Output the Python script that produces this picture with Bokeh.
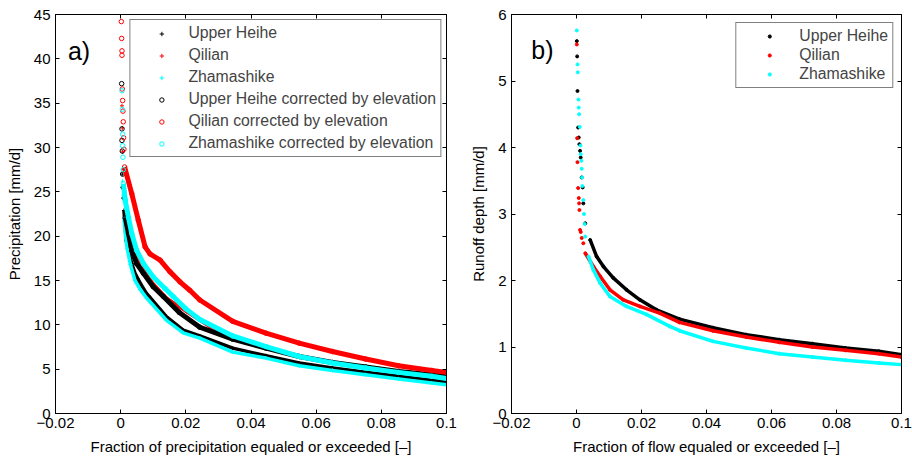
from bokeh.plotting import figure
from bokeh.layouts import row
from bokeh.models import (FixedTicker, LinearAxis, Legend, LegendItem, Label,
                          CustomJSTickFormatter, CustomLabelingPolicy, Range1d)
from bokeh.embed import file_html
from bokeh.resources import INLINE

FONT = "Liberation Sans"
BLACK, RED, CYAN = "#000000", "#ff0000", "#00ffff"

# ---------------- data: panel a (precipitation exceedance) ----------------
x_ticks = [-0.02, 0.0, 0.02, 0.04, 0.06, 0.08, 0.1]
ya_ticks = [0, 5, 10, 15, 20, 25, 30, 35, 40, 45]
yb_ticks = [0, 1, 2, 3, 4, 5, 6]

uh_top_x = [0.0005, 0.0006, 0.0007]
uh_top_y = [27.0, 25.5, 24.3]
uh_x = [0.001, 0.0014, 0.0017, 0.0024, 0.0034, 0.0044, 0.006, 0.008, 0.009, 0.0141, 0.0192,
        0.0243, 0.0344, 0.0446, 0.0548, 0.065, 0.0752, 0.0853, 0.0955, 0.1]
uh_y = [22.9, 21.0, 19.5, 18.4, 16.9, 15.8, 14.7, 13.5, 13.1, 10.9, 9.4,
        8.75, 7.37, 6.51, 5.69, 5.13, 4.64, 4.19, 3.74, 3.56]

ql_top_x = [0.0004, 0.0005, 0.0006, 0.0008]
ql_top_y = [34.7, 32.2, 29.5, 27.5]
ql_x = [0.001, 0.002, 0.003, 0.004, 0.005, 0.006, 0.008, 0.01, 0.0141, 0.0202, 0.0273,
        0.0344, 0.0446, 0.0548, 0.065, 0.0752, 0.0853, 0.0955, 0.1]
ql_y = [25.5, 22.8, 20.8, 19.3, 18.0, 17.0, 15.6, 14.6, 13.0, 11.5, 9.8,
        8.5, 7.45, 6.45, 5.72, 5.18, 4.7, 4.3, 4.1]

zm_top_x = [0.0006, 0.0008]
zm_top_y = [26.2, 24.6]
zm_x = [0.001, 0.0015, 0.002, 0.003, 0.0044, 0.006, 0.008, 0.009, 0.0141, 0.0192, 0.0243,
        0.0344, 0.0446, 0.0548, 0.065, 0.0752, 0.0853, 0.0955, 0.1]
zm_y = [22.0, 20.0, 18.6, 16.8, 15.0, 14.0, 13.0, 12.6, 10.5, 9.1, 8.5,
        6.92, 6.25, 5.39, 4.86, 4.38, 3.9, 3.45, 3.25]

uhc_top_x = [0.0003, 0.0004, 0.0004, 0.0005, 0.0006, 0.0008]
uhc_top_y = [37.2, 32.1, 30.8, 29.6, 27.0, 25.5]
uhc_x = [0.0014, 0.0024, 0.0034, 0.0049, 0.007, 0.01, 0.0131, 0.018, 0.0243, 0.0344,
         0.0446, 0.0548, 0.065, 0.0752, 0.0853, 0.0955, 0.1]
uhc_y = [22.1, 20.3, 18.4, 16.9, 15.8, 14.3, 13.2, 11.4, 9.73, 8.38,
         7.37, 6.43, 5.76, 5.24, 4.75, 4.38, 4.19]

qlc_top_x = [0.0002, 0.0003, 0.0004, 0.0004, 0.0005, 0.0006, 0.0007, 0.0008, 0.0009, 0.001]
qlc_top_y = [44.2, 42.3, 40.9, 40.4, 36.6, 35.3, 34.1, 32.9, 31.1, 29.8]
qlc_x = [0.0012, 0.0034, 0.0054, 0.0075, 0.009, 0.0121, 0.0151, 0.0182, 0.0212, 0.0243, 0.0344,
         0.0446, 0.0548, 0.065, 0.0752, 0.0853, 0.0955, 0.1]
qlc_y = [27.8, 24.8, 21.8, 18.8, 18.0, 17.3, 16.0, 14.85, 13.9, 12.8, 10.4,
         9.06, 7.93, 6.99, 6.14, 5.39, 4.86, 4.64]

zmc_top_x = [0.0004, 0.0005, 0.0006, 0.0006, 0.0007, 0.0008]
zmc_top_y = [36.4, 34.3, 31.5, 30.2, 28.9, 27.5]
zmc_x = [0.00086, 0.0014, 0.0024, 0.0034, 0.0049, 0.007, 0.01, 0.0136, 0.0161, 0.02, 0.0243,
         0.0344, 0.0446, 0.0548, 0.065, 0.0752, 0.0853, 0.0955, 0.1]
zmc_y = [25.9, 24.0, 22.1, 20.3, 18.4, 16.9, 15.4, 14.1, 13.2, 11.8, 10.6,
         8.75, 7.55, 6.43, 5.69, 5.13, 4.64, 4.19, 3.95]

# ---------------- data: panel b (runoff exceedance) ----------------
ruh_top_x = [0.0001, 0.0002, 0.0003, 0.0005, 0.0007, 0.0009, 0.0011, 0.0013, 0.0016, 0.0019, 0.0021, 0.0027]
ruh_top_y = [5.6, 5.37, 4.85, 4.3, 4.15, 4.05, 3.95, 3.85, 3.55, 3.4, 3.16, 2.86]
ruh_x = [0.0042, 0.0062, 0.0083, 0.0113, 0.0154, 0.0195, 0.0246, 0.0317, 0.042, 0.0522,
         0.0624, 0.0726, 0.0828, 0.093, 0.1]
ruh_y = [2.61, 2.36, 2.21, 2.04, 1.86, 1.71, 1.56, 1.42, 1.29, 1.185,
         1.11, 1.05, 0.985, 0.935, 0.885]

rql_top_x = [0.0001, 0.0002, 0.0003, 0.0005, 0.0007, 0.0008, 0.0009, 0.0011, 0.0013, 0.0016, 0.0021]
rql_top_y = [5.55, 4.14, 3.78, 3.39, 3.24, 3.16, 3.06, 2.76, 2.73, 2.64, 2.56]
rql_x = [0.0027, 0.0052, 0.0073, 0.0103, 0.0144, 0.0195, 0.0256, 0.0317, 0.042, 0.0522,
         0.0624, 0.0726, 0.0828, 0.093, 0.1]
rql_y = [2.41, 2.21, 2.06, 1.86, 1.71, 1.61, 1.51, 1.37, 1.245, 1.15,
         1.07, 1.0, 0.95, 0.9, 0.85]

rzm_top_x = [0.0001, 0.0003, 0.0004, 0.0006, 0.0007, 0.0008, 0.001, 0.0012, 0.0013, 0.0015,
             0.0016, 0.0017, 0.0018, 0.0021, 0.0023, 0.0025, 0.0027]
rzm_top_y = [5.76, 5.25, 5.13, 4.72, 4.6, 4.5, 4.31, 4.03, 3.9, 3.8,
             3.68, 3.55, 3.42, 3.21, 3.0, 2.85, 2.66]
rzm_x = [0.0037, 0.0052, 0.0073, 0.0103, 0.0154, 0.0215, 0.0287, 0.0317, 0.042, 0.0522,
         0.0624, 0.0726, 0.0828, 0.093, 0.1]
rzm_y = [2.36, 2.16, 1.96, 1.76, 1.61, 1.49, 1.31, 1.245, 1.085, 0.985,
         0.9, 0.85, 0.8, 0.76, 0.735]

labels_a = ["Upper Heihe", "Qilian", "Zhamashike",
            "Upper Heihe corrected by elevation", "Qilian corrected by elevation",
            "Zhamashike corrected by elevation"]
labels_b = ["Upper Heihe", "Qilian", "Zhamashike"]

XFMT = CustomJSTickFormatter(code="""
    if (Math.abs(tick) < 1e-12) { return "0"; }
    var s = parseFloat(tick.toFixed(4)).toString();
    return s.replace("-", "\\u2212");
""")

NO_LABELS = CustomLabelingPolicy(code="""
    const all = [...indices];
    for (const i of all) { indices.unset(i); }
    return indices;
""")

TICK_FS = "15px"
LEG_FS = "15.8px"


def style_axis(ax, ticker, label=None, fmt=None, standoff=5):
    ax.ticker = FixedTicker(ticks=ticker)
    if fmt is not None:
        ax.formatter = fmt
    ax.major_tick_in = 4
    ax.major_tick_out = 0
    ax.minor_tick_in = 0
    ax.minor_tick_out = 0
    ax.axis_line_color = "black"
    ax.axis_line_width = 1
    ax.major_tick_line_color = "black"
    ax.major_label_text_font = FONT
    ax.major_label_text_font_size = TICK_FS
    ax.major_label_text_color = "black"
    ax.major_label_standoff = standoff
    if label is not None:
        ax.axis_label = label
        ax.axis_label_text_font = FONT
        ax.axis_label_text_font_size = TICK_FS
        ax.axis_label_text_font_style = "normal"
        ax.axis_label_text_color = "black"


def make_fig(width, bl, br, y_end, yticks, ylabel, xlabel):
    p = figure(width=width, height=457, x_range=Range1d(-0.02, 0.1), y_range=Range1d(0, y_end),
               output_backend="svg", toolbar_location=None,
               min_border_left=bl, min_border_right=br, min_border_top=14, min_border_bottom=43)
    p.xgrid.visible = False
    p.ygrid.visible = False
    p.outline_line_color = "black"
    p.outline_line_width = 1
    p.background_fill_color = "white"
    p.border_fill_color = "white"
    style_axis(p.xaxis[0], x_ticks, xlabel, XFMT, standoff=4)
    p.xaxis[0].axis_label_standoff = 7
    style_axis(p.yaxis[0], yticks, ylabel, None, standoff=5)
    p.yaxis[0].axis_label_standoff = 8
    top = LinearAxis(major_label_policy=NO_LABELS)
    style_axis(top, x_ticks, standoff=0)
    right = LinearAxis(major_label_policy=NO_LABELS)
    style_axis(right, yticks, standoff=0)
    p.add_layout(top, "above")
    p.add_layout(right, "right")
    return p


def make_legend(items, margin, spacing, gw, gh, standoff):
    return Legend(items=items, location="top_right", margin=margin, padding=4, spacing=spacing,
                  glyph_width=gw, glyph_height=gh, label_height=18, label_standoff=standoff,
                  label_text_font=FONT, label_text_font_size=LEG_FS,
                  label_text_baseline="middle",
                  border_line_color="black", border_line_width=1, background_fill_alpha=1)


# ---------------- panel a ----------------
pa = make_fig(466, 55, 18, 45, ya_ticks, "Precipitation [mm/d]",
              "Fraction of precipitation equaled or exceeded [\u2013]")

series_a = [
    (uh_top_x, uh_top_y, uh_x, uh_y, BLACK, "cross"),
    (ql_top_x, ql_top_y, ql_x, ql_y, RED, "cross"),
    (zm_top_x, zm_top_y, zm_x, zm_y, CYAN, "cross"),
    (uhc_top_x, uhc_top_y, uhc_x, uhc_y, BLACK, "circle"),
    (qlc_top_x, qlc_top_y, qlc_x, qlc_y, RED, "circle"),
    (zmc_top_x, zmc_top_y, zmc_x, zmc_y, CYAN, "circle"),
]
items_a = []
for (tx, ty, cx, cy, col, mk), lab in zip(series_a, labels_a):
    lw = 3.5 if mk == "cross" else 5
    pa.line(cx, cy, line_color=col, line_width=lw, line_join="round")
    if mk == "cross":
        r = pa.scatter(tx + cx, ty + cy, marker="cross", size=4, line_color=col, line_width=1)
    else:
        r = pa.scatter(tx + cx, ty + cy, marker="circle", size=4.5, line_color=col,
                       fill_color=None, line_width=1)
    items_a.append(LegendItem(label=lab, renderers=[r]))

pa.add_layout(make_legend(items_a, 5, 4, 54, 11, 0))
pa.add_layout(Label(x=-0.0162, y=40.9, text="a)", text_font=FONT, text_font_size="25px",
                    text_baseline="alphabetic", text_color="black"))

# ---------------- panel b ----------------
pb = make_fig(446, 45, 9, 6, yb_ticks, "Runoff depth [mm/d]",
              "Fraction of flow equaled or exceeded [\u2013]")
series_b = [
    (ruh_top_x, ruh_top_y, ruh_x, ruh_y, BLACK),
    (rql_top_x, rql_top_y, rql_x, rql_y, RED),
    (rzm_top_x, rzm_top_y, rzm_x, rzm_y, CYAN),
]
items_b = []
for (tx, ty, cx, cy, col), lab in zip(series_b, labels_b):
    pb.line(cx, cy, line_color=col, line_width=3.5, line_join="round")
    r = pb.scatter(tx + cx, ty + cy, marker="circle", size=3, line_color=col, fill_color=col)
    items_b.append(LegendItem(label=lab, renderers=[r]))

pb.add_layout(make_legend(items_b, 8, 1, 58, 8, 1))
pb.add_layout(Label(x=-0.0139, y=5.46, text="b)", text_font=FONT, text_font_size="25px",
                    text_baseline="alphabetic", text_color="black"))

layout = row(pa, pb)
open("out.html", "w").write(file_html(layout, INLINE))
